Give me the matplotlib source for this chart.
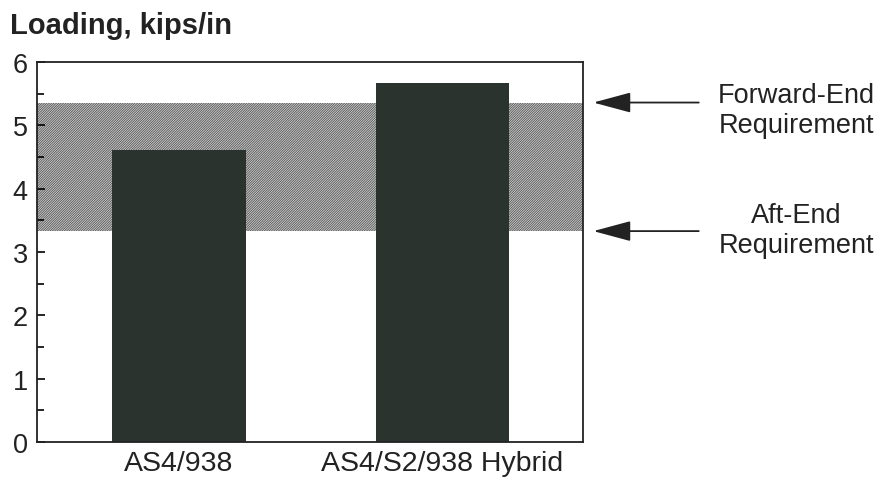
import matplotlib
matplotlib.use("Agg")
import matplotlib.pyplot as plt

plt.rcParams['font.family'] = ['Liberation Sans', 'DejaVu Sans']
plt.rcParams['hatch.linewidth'] = 0.6

categories = ["AS4/938", "AS4/S2/938 Hybrid"]
loading = [4.61, 5.67]
aft_end_req = 3.33
forward_end_req = 5.36
y_ticks = [0, 1, 2, 3, 4, 5, 6]

fig = plt.figure(figsize=(8.82, 4.81), dpi=100)
ax = fig.add_axes([0.0425, 0.079, 0.618, 0.79])

# requirement band
ax.axhspan(aft_end_req, forward_end_req, facecolor='#d0d0d0', edgecolor='#555555',
           hatch='/' * 14, linewidth=0, zorder=1)

x = range(len(categories))
ax.bar(x, loading, width=0.506, color='#2b332e', zorder=2)

ax.set_xlim(-0.537, 1.532)
ax.set_ylim(0, 6)
ax.set_yticks(y_ticks)
ax.set_yticks([v + 0.5 for v in y_ticks[:-1]], minor=True)
ax.set_xticks(list(x))
ax.set_xticklabels(categories, fontsize=20.5, color='#222222')
ax.tick_params(axis='y', which='major', direction='in', length=6, width=1.2,
               labelsize=19.5, pad=7, labelcolor='#222222')
ax.tick_params(axis='y', which='minor', direction='in', length=5, width=1.2)
ax.tick_params(axis='x', length=0, pad=6)
for s in ax.spines.values():
    s.set_linewidth(1.3)
    s.set_color('#222222')

fig.text(0.011, 0.929, "Loading, kips/in", fontsize=21, fontweight='bold',
         color='#222222', va='baseline')

# requirement annotations
for yv, label, ty in [(forward_end_req, "Forward-End\nRequirement", forward_end_req - 0.12),
                      (aft_end_req, "Aft-End\nRequirement", aft_end_req + 0.02)]:
    ax.annotate("", xy=(1.573, yv), xytext=(1.973, yv), xycoords='data', textcoords='data',
                annotation_clip=False,
                arrowprops=dict(arrowstyle='-|>,head_length=1.3,head_width=0.35',
                                color='#222222', lw=1.3,
                                mutation_scale=18, shrinkA=0, shrinkB=0))
    ax.text(2.345, ty, label, ha='center', va='center', fontsize=19.5,
            color='#222222', linespacing=1.2, clip_on=False)

fig.savefig("out.png", dpi=100)
